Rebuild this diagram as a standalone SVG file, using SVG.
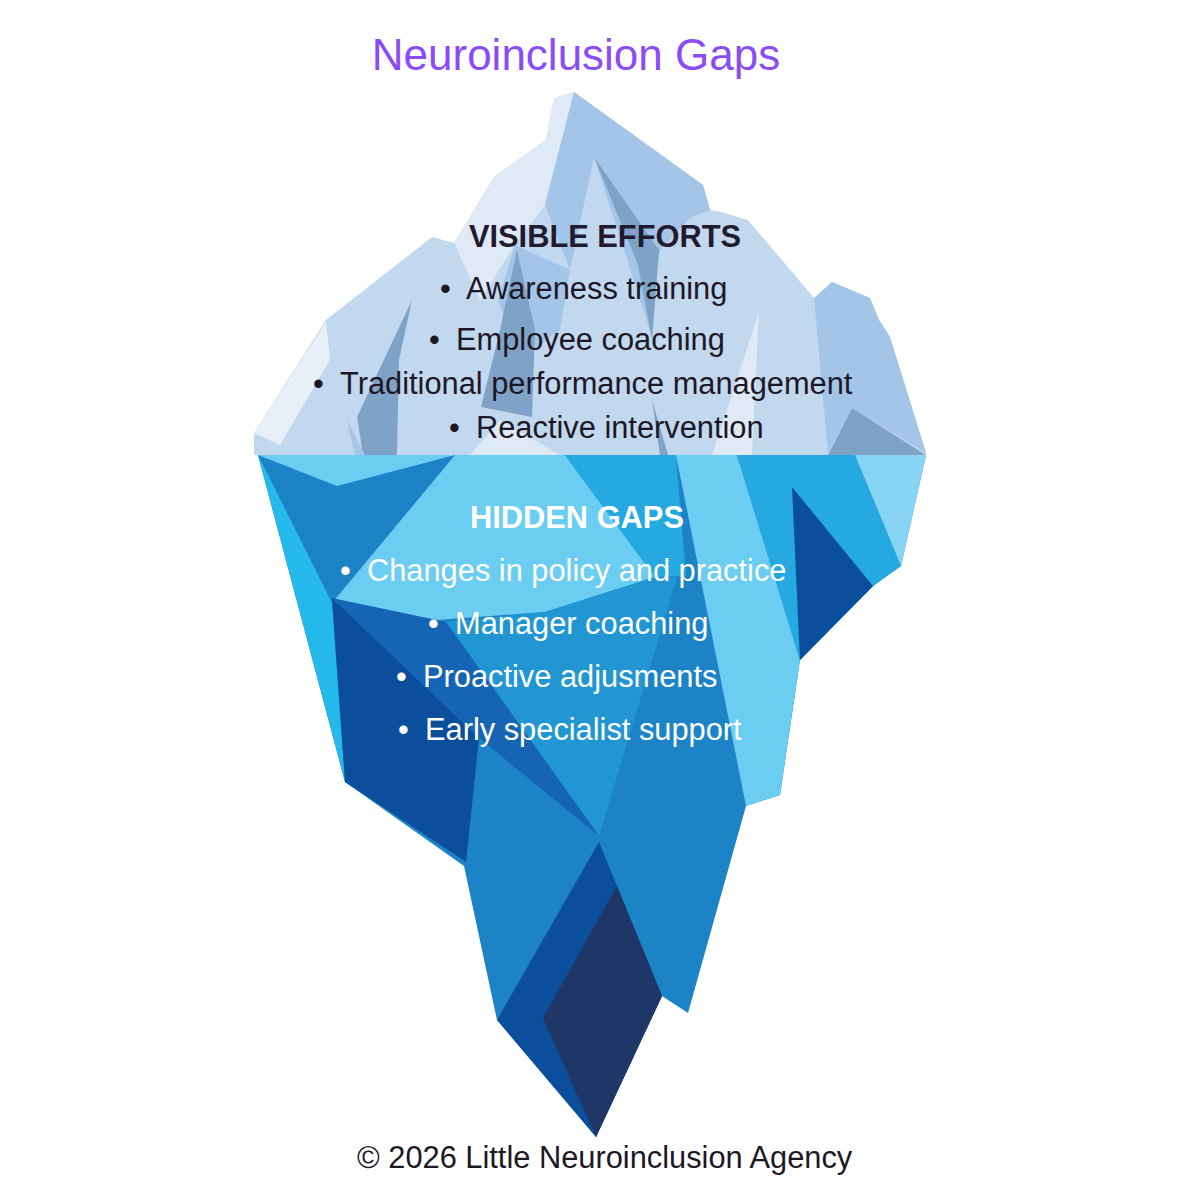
<svg xmlns="http://www.w3.org/2000/svg" width="1200" height="1200" viewBox="0 0 1200 1200">
<style>
text{font-family:"Liberation Sans",Arial,sans-serif;}
.t{font-size:30.8px;fill:#1d1726;}
.w{font-size:30.8px;fill:#ffffff;}
</style>
<rect width="1200" height="1200" fill="#fff"/>
<g id="tip">
<polygon fill="#c1d8ee" points="254,455 254,433 326,320 432,237 454,243 494,177 546,140 554,98 574,92 703,185 710,210 721,212 748,220 814,298 832,282 870,298 879,320 890,337 926,453 926,455"/>
<polygon fill="#dfeaf6" points="574,92 554,98 546,140 494,177 454,243 480,300 515,245 545,205"/>
<polygon fill="#a3c5e8" points="574,92 703,185 710,210 690,218 660,250 650,330 594,157 570,270 545,205"/>
<polygon fill="#a3c5e8" points="515,245 570,270 560,330 520,360 498,300"/>
<polygon fill="#7fa3c7" points="594,157 659,250 652,340 638,265"/>
<polygon fill="#7fa3c7" points="412,300 357,417 363,455 397,455 399,360"/>
<polygon fill="#7fa3c7" points="517,250 535,330 532,417 481,407 500,330"/>
<polygon fill="#7fa3c7" points="652,400 660,455 668,455"/>
<polygon fill="#e8eff6" points="254,433 326,322 330,360 280,445"/>
<polygon fill="#a3c5e8" points="814,298 832,282 870,298 879,320 890,337 926,453 852,408 828,453"/>
<polygon fill="#7fa3c7" points="828,455 852,408 926,455"/>
<polygon fill="#dfeaf6" points="759,312 712,455 752,455"/>
<polygon fill="#dfeaf6" points="470,455 500,420 560,455"/>
<polygon fill="#a3c5e8" points="347,420 355,455 365,455"/>
</g>
<g id="underwater">
<polygon fill="#1c84c6" points="258,455 926,455 901,566 873,586 800,660 780,795 746,806 688,1013 662,996 596,1137 497,1020 464,866 345,782"/>
<polygon fill="#25b8ea" points="258,455 332,603 345,782"/>
<polygon fill="#6bcdf2" points="258,455 337,486 455,455"/>
<polygon fill="#6bcdf2" points="455,455 565,455 655,577 545,612 437,620 332,603"/>
<polygon fill="#25a9e0" points="565,455 676,455 686,576 655,577"/>
<polygon fill="#2196d3" points="446,622 545,612 655,577 677,578 599,836"/>
<polygon fill="#1565b4" points="332,598 446,622 599,836 479,738"/>
<polygon fill="#0b4e9b" points="332,598 479,738 466,862 345,782"/>
<polygon fill="#6bcdf2" points="676,455 737,455 800,660 780,795 746,806"/>
<polygon fill="#25a9e0" points="737,455 855,455 901,566 873,586 800,660"/>
<polygon fill="#0b4e9b" points="792,487 873,586 800,660"/>
<polygon fill="#88d4f4" points="855,455 926,455 901,566"/>
<polygon fill="#0b4e9b" points="599,842 497,1020 596,1137 662,996"/>
<polygon fill="#1e3766" points="617,886 543,1018 596,1137 662,996"/>
</g>
<g id="labels">
<text x="576" y="70" text-anchor="middle" font-size="44" fill="#8b4cf7">Neuroinclusion Gaps</text>
<text x="605" y="247" text-anchor="middle" font-size="30.8" font-weight="bold" fill="#221a2e">VISIBLE EFFORTS</text>
<text class="t" y="299"><tspan x="440">•</tspan><tspan x="466">Awareness training</tspan></text>
<text class="t" y="350"><tspan x="429">•</tspan><tspan x="456">Employee coaching</tspan></text>
<text class="t" y="394"><tspan x="313">•</tspan><tspan x="340">Traditional performance management</tspan></text>
<text class="t" y="438"><tspan x="449">•</tspan><tspan x="476">Reactive intervention</tspan></text>
<text x="577" y="528" text-anchor="middle" font-size="30.8" font-weight="bold" fill="#fff">HIDDEN GAPS</text>
<text class="w" y="581"><tspan x="340">•</tspan><tspan x="367">Changes in policy and practice</tspan></text>
<text class="w" y="634"><tspan x="428">•</tspan><tspan x="455">Manager coaching</tspan></text>
<text class="w" y="687"><tspan x="396">•</tspan><tspan x="423">Proactive adjusments</tspan></text>
<text class="w" y="740"><tspan x="398">•</tspan><tspan x="425">Early specialist support</tspan></text>
<text class="t" x="357" y="1168">© 2026 Little Neuroinclusion Agency</text>
</g>
</svg>
